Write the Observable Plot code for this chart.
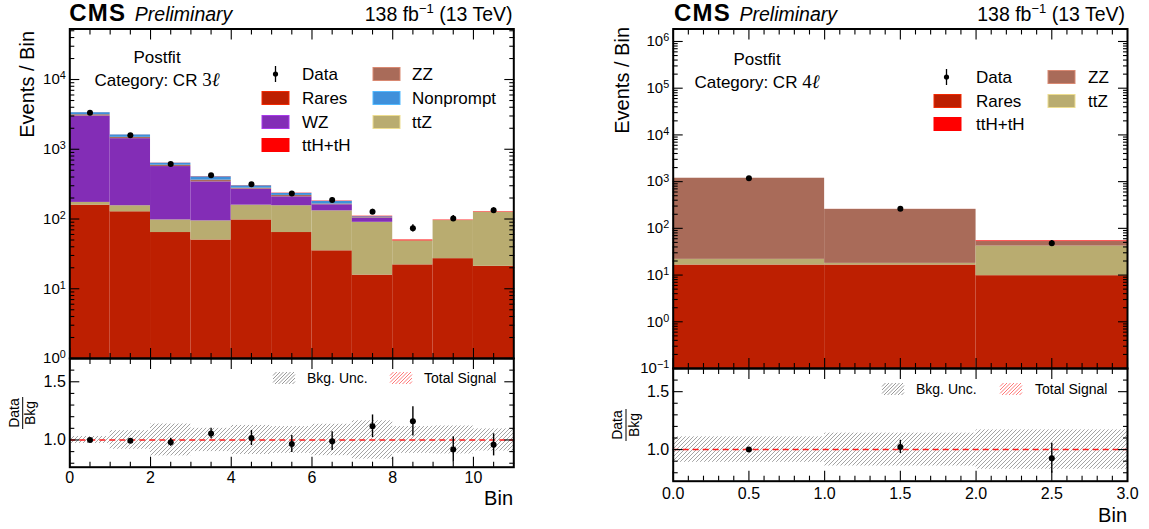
<!DOCTYPE html>
<html><head><meta charset="utf-8">
<script src="https://cdn.jsdelivr.net/npm/d3@7"></script>
<script src="https://cdn.jsdelivr.net/npm/@observablehq/plot@0.6"></script>
<style>
html,body{margin:0;padding:0;background:#fff;}
#root{position:relative;width:1149px;height:529px;overflow:hidden;background:#fff;font-family:"Liberation Sans",Arial,Helvetica,sans-serif;}
#root svg{position:absolute;max-width:none;overflow:visible;}
</style></head>
<body><div id="root"></div>
<script>
// ---------------- data ----------------
const procNames  = ["Rares", "ttZ", "WZ", "ZZ", "Nonprompt", "ttH+tH"];
const procColors = ["#bd1f01", "#b9ac70", "#832db6", "#a96b59", "#3f90da", "#ff0000"];

// CR 3l (left)
const binLo3l = [0, 1, 2, 3, 4, 5, 6, 7, 8, 9, 10];
const binHi3l = [1, 2, 3, 4, 5, 6, 7, 8, 9, 10, 11];
const rares3l     = [158, 127, 64, 50, 97, 64, 35, 15.7, 22, 27, 21];
const ttZ3l       = [15, 28, 33, 44, 61, 91, 96, 74, 26.5, 68, 104];
const wz3l        = [2820, 1264, 468, 247, 110, 53, 29, 13, 0, 0, 0];
const zz3l        = [133, 64, 26, 20, 9, 10, 4, 2, 0, 0, 0];
const nonprompt3l = [216, 120, 40, 41, 22, 15, 15, 3, 0, 0, 0];
const tth3l       = [5, 4, 3, 3, 2, 2, 2, 2, 1.5, 1.5, 2];
const data3l      = [3342, 1585, 617, 425, 316, 233, 187, 127, 74, 102, 133];
const dataErr3l   = [58, 40, 25, 21, 18, 15, 14, 11, 9, 10, 12];
const ratio3l     = [1.0, 0.994, 0.98, 1.056, 1.017, 0.966, 0.99, 1.118, 1.16, 0.918, 0.958];
const ratioErr3l  = [0.008, 0.012, 0.035, 0.045, 0.065, 0.073, 0.08, 0.097, 0.125, 0.11, 0.095];
const bkgUnc3l    = [0.03, 0.08, 0.137, 0.1, 0.125, 0.115, 0.135, 0.165, 0.115, 0.12, 0.095];

// CR 4l (right)
const binLo4l = [0, 1, 2];
const binHi4l = [1, 2, 3];
const rares4l    = [16.4, 16.4, 9.7];
const ttZ4l      = [5.3, 1.4, 32];
const zz4l       = [1160, 237, 10.5];
const tth4l      = [0.6, 0.6, 1.8];
const data4l     = [1180, 264, 48];
const dataErr4l  = [34, 16, 7];
const ratio4l    = [1.0, 1.023, 0.925];
const ratioErr4l = [0.01, 0.057, 0.13];
const bkgUnc4l   = [0.11, 0.142, 0.17];

// axis ranges / ticks
const yMain3l = [1, 5.3e4];
const yMain4l = [0.1, 1.85e6];
const yRatio3l = [0.766, 1.7];
const yRatio4l = [0.727, 1.7];
const ratioMajor = [1.0, 1.5];
const ratioMinor = [0.8, 0.9, 1.1, 1.2, 1.3, 1.4, 1.6, 1.7];
const xMajor3l = [0, 2, 4, 6, 8, 10];
const xMinor3l = [0.5, 1, 1.5, 2.5, 3, 3.5, 4.5, 5, 5.5, 6.5, 7, 7.5, 8.5, 9, 9.5, 10.5];
const xMajor4l = [0, 0.5, 1, 1.5, 2, 2.5, 3];
const xMinor4l = [0.1,0.2,0.3,0.4,0.6,0.7,0.8,0.9,1.1,1.2,1.3,1.4,1.6,1.7,1.8,1.9,2.1,2.2,2.3,2.4,2.6,2.7,2.8,2.9];

// ---------------- helpers ----------------
const FONT = '"Liberation Sans", Arial, Helvetica, sans-serif';
const HATCH_GRAY = "#9a9a9a";
const HATCH_RED = "#ff7a7a";
const root = document.getElementById("root");

function stackRows(lo, hi, comps, floor) {
  const rows = [];
  lo.forEach((x1, i) => {
    let base = 0;
    comps.forEach(([name, vals]) => {
      const v = vals[i];
      if (v > 0) rows.push({x1, x2: hi[i], y1: base > 0 ? base : floor, y2: base + v, name});
      base += v;
    });
  });
  return rows;
}
function pointRows(lo, hi, vals, errs) {
  return vals.map((v, i) => ({x: (lo[i] + hi[i]) / 2, y: v, lo: v - errs[i], hi: v + errs[i]}));
}
function bandRows(lo, hi, unc) {
  return unc.map((u, i) => ({x1: lo[i], x2: hi[i], y1: 1 - u, y2: 1 + u}));
}
function logMajor([a, b]) {
  const t = [];
  for (let e = Math.ceil(Math.log10(a) - 1e-9); Math.pow(10, e) <= b * 1.0001; e++) t.push(Math.pow(10, e));
  return t;
}
function logMinor([a, b]) {
  const t = [];
  for (let e = Math.floor(Math.log10(a) + 1e-9); Math.pow(10, e) <= b; e++)
    for (let m = 2; m <= 9; m++) { const v = m * Math.pow(10, e); if (v > a && v < b) t.push(v); }
  return t;
}
function frameTicks(xMaj, xMin, yMaj, yMin) {
  const c = {fill: "none", label: null, stroke: "black", strokeWidth: 1.1};
  const out = [];
  for (const anchor of ["top", "bottom"]) {
    out.push(Plot.axisX({...c, anchor, ticks: xMaj, tickSize: -10}));
    out.push(Plot.axisX({...c, anchor, ticks: xMin, tickSize: -5}));
  }
  for (const anchor of ["left", "right"]) {
    out.push(Plot.axisY({...c, anchor, ticks: yMaj, tickSize: -10}));
    out.push(Plot.axisY({...c, anchor, ticks: yMin, tickSize: -5}));
  }
  return out;
}
function superscriptify(svg) {
  d3.select(svg).selectAll("text").each(function () {
    const t = this.textContent;
    if (!t.includes("^")) return;
    const [b, e] = t.split("^");
    const s = d3.select(this);
    s.text(null);
    s.append("tspan").text(b);
    s.append("tspan").attr("dy", "-0.45em").attr("font-size", "0.72em").text(e.replace("-", "\u2212"));
  });
}
function makeHatch(defs, id, color) {
  const p = defs.append("pattern").attr("id", id).attr("patternUnits", "userSpaceOnUse")
    .attr("width", 4).attr("height", 4);
  p.append("path").attr("d", "M-1,1 L1,-1 M0,4 L4,0 M3,5 L5,3")
    .attr("stroke", color).attr("stroke-width", 0.9).attr("fill", "none");
}
function place(svg, left, top) {
  svg.style.position = "absolute";
  svg.style.left = left + "px";
  svg.style.top = top + "px";
  svg.style.overflow = "visible";
  svg.style.maxWidth = "none";
  root.appendChild(svg);
}
const logFmt = d => `10^${Math.round(Math.log10(d))}`;

function mainPlot({width, height, mL, mR, mT, xDom, yDom, rows, pts, xMaj, xMin}) {
  const svg = Plot.plot({
    width, height, marginLeft: mL, marginRight: mR, marginTop: mT, marginBottom: 0,
    style: {fontFamily: FONT, fontSize: "16px", color: "black", background: "transparent"},
    x: {domain: xDom},
    y: {type: "log", domain: yDom},
    color: {domain: procNames, range: procColors},
    marks: [
      Plot.rect(rows, {x1: "x1", x2: "x2", y1: "y1", y2: "y2", fill: "name"}),
      Plot.ruleX(pts, {x: "x", y1: "lo", y2: "hi", stroke: "black", strokeWidth: 1.4}),
      Plot.dot(pts, {x: "x", y: "y", r: 3, fill: "black", stroke: "none"}),
      ...frameTicks(xMaj, xMin, logMajor(yDom), logMinor(yDom)),
      Plot.axisY({anchor: "left", ticks: logMajor(yDom), tickSize: 0, tickPadding: 4, tickFormat: logFmt, label: null, fill: "black", fontSize: 15}),
      Plot.frame({stroke: "black", strokeWidth: 2})
    ]
  });
  superscriptify(svg);
  return svg;
}
function ratioPlot({width, height, mL, mR, mB, xDom, yDom, bands, pts, xMaj, xMin, xFmt, hatchId, xPad}) {
  const svg = Plot.plot({
    width, height, marginLeft: mL, marginRight: mR, marginTop: 0, marginBottom: mB,
    style: {fontFamily: FONT, fontSize: "16px", color: "black", background: "transparent"},
    x: {domain: xDom},
    y: {domain: yDom},
    marks: [
      Plot.rect(bands, {x1: "x1", x2: "x2", y1: "y1", y2: "y2", fill: `url(#${hatchId})`}),
      Plot.ruleY([1], {stroke: "#ff1a1a", strokeWidth: 1.5, strokeDasharray: "6,4"}),
      Plot.ruleX(pts, {x: "x", y1: "lo", y2: "hi", stroke: "black", strokeWidth: 1.4}),
      Plot.dot(pts, {x: "x", y: "y", r: 3, fill: "black", stroke: "none"}),
      ...frameTicks(xMaj, xMin, ratioMajor, ratioMinor),
      Plot.axisY({anchor: "left", ticks: ratioMajor, tickSize: 0, tickPadding: 4, tickFormat: d3.format(".1f"), label: null, fill: "black"}),
      Plot.axisX({anchor: "bottom", ticks: xMaj, tickSize: 0, tickPadding: xPad, tickFormat: xFmt, label: null, fill: "black"}),
      Plot.frame({stroke: "black", strokeWidth: 2})
    ]
  });
  makeHatch(d3.select(svg).insert("defs", ":first-child"), hatchId, HATCH_GRAY);
  return svg;
}

// ---------------- left panel (CR 3l) ----------------
const rows3l = stackRows(binLo3l, binHi3l,
  [["Rares", rares3l], ["ttZ", ttZ3l], ["WZ", wz3l], ["ZZ", zz3l], ["Nonprompt", nonprompt3l], ["ttH+tH", tth3l]], yMain3l[0]);
place(mainPlot({width: 560, height: 358, mL: 69.3, mR: 46.7, mT: 28.5, xDom: [0, 11], yDom: yMain3l,
  rows: rows3l, pts: pointRows(binLo3l, binHi3l, data3l, dataErr3l), xMaj: xMajor3l, xMin: xMinor3l}), 0, 0);
place(ratioPlot({width: 560, height: 171, mL: 69.3, mR: 46.7, mB: 62.3, xDom: [0, 11], yDom: yRatio3l,
  bands: bandRows(binLo3l, binHi3l, bkgUnc3l), pts: pointRows(binLo3l, binHi3l, ratio3l, ratioErr3l),
  xMaj: xMajor3l, xMin: xMinor3l, xFmt: d3.format("d"), hatchId: "hatchL", xPad: 4.5}), 0, 358);

// ---------------- right panel (CR 4l) ----------------
const rows4l = stackRows(binLo4l, binHi4l,
  [["Rares", rares4l], ["ttZ", ttZ4l], ["ZZ", zz4l], ["ttH+tH", tth4l]], yMain4l[0]);
place(mainPlot({width: 559, height: 368, mL: 82.7, mR: 22, mT: 28.5, xDom: [0, 3], yDom: yMain4l,
  rows: rows4l, pts: pointRows(binLo4l, binHi4l, data4l, dataErr4l), xMaj: xMajor4l, xMin: xMinor4l}), 590, 0);
place(ratioPlot({width: 559, height: 161, mL: 82.7, mR: 22, mB: 48.3, xDom: [0, 3], yDom: yRatio4l,
  bands: bandRows(binLo4l, binHi4l, bkgUnc4l), pts: pointRows(binLo4l, binHi4l, ratio4l, ratioErr4l),
  xMaj: xMajor4l, xMin: xMinor4l, xFmt: d3.format(".1f"), hatchId: "hatchR", xPad: 6.5}), 590, 368);

// ---------------- annotations overlay ----------------
const ov = d3.select(root).append("svg").attr("width", 1149).attr("height", 529)
  .style("left", "0px").style("top", "0px").style("pointer-events", "none")
  .attr("font-family", FONT);

function header(xL, xR) {
  ov.append("text").attr("x", xL).attr("y", 21).attr("font-size", 24).attr("font-weight", "bold")
    .attr("letter-spacing", 1.2).text("CMS");
  ov.append("text").attr("x", xL + 65.5).attr("y", 21).attr("font-size", 19.5).attr("font-style", "italic").text("Preliminary");
  const t = ov.append("text").attr("x", xR).attr("y", 21).attr("font-size", 19.5).attr("text-anchor", "end");
  t.append("tspan").text("138 fb");
  t.append("tspan").attr("dy", -8).attr("font-size", 13).text("\u22121");
  t.append("tspan").attr("dy", 8).text(" (13 TeV)");
}
header(69.3, 512.5);
header(674, 1125);

function vtitle(x, y, s) {
  ov.append("text").attr("transform", `translate(${x},${y}) rotate(-90)`).attr("text-anchor", "end")
    .attr("font-size", 20).text(s);
}
vtitle(33.5, 31, "Events / Bin");
vtitle(628.5, 27, "Events / Bin");

function fraction(x, y) {
  const g = ov.append("g").attr("transform", `translate(${x},${y}) rotate(-90)`).attr("font-size", 14);
  g.append("text").attr("text-anchor", "middle").attr("y", -4).text("Data");
  g.append("line").attr("x1", -16).attr("x2", 16).attr("stroke", "black").attr("stroke-width", 1);
  g.append("text").attr("text-anchor", "middle").attr("y", 12.5).text("Bkg");
}
fraction(22.7, 413);
fraction(626, 425);

function xtitle(x, y) {
  ov.append("text").attr("x", x).attr("y", y).attr("text-anchor", "end").attr("font-size", 20).text("Bin");
}
xtitle(513, 505);
xtitle(1127, 521.5);

function catText(cx, cy, n) {
  ov.append("text").attr("x", cx).attr("y", cy - 23).attr("dy", "0.35em").attr("text-anchor", "middle")
    .attr("font-size", 17).text("Postfit");
  const t = ov.append("text").attr("x", cx).attr("y", cy).attr("dy", "0.35em").attr("text-anchor", "middle").attr("font-size", 17);
  t.append("tspan").text("Category: CR ");
  t.append("tspan").attr("font-family", '"Liberation Serif", "DejaVu Serif", serif').attr("font-size", 19).text(n);
  t.append("tspan").attr("font-family", '"Liberation Serif", "DejaVu Serif", serif').attr("font-style", "italic").attr("font-size", 19).text("\u2113");
}
catText(157, 80.5, "3");
catText(757, 82, "4");

function legendBox(x, y, name, tx) {
  const c = procColors[procNames.indexOf(name)];
  ov.append("rect").attr("x", x).attr("y", y - 6.5).attr("width", 27).attr("height", 13)
    .attr("fill", c).attr("stroke", d3.color(c).brighter(0.7)).attr("stroke-width", 1);
  ov.append("text").attr("x", tx).attr("y", y).attr("dy", "0.35em").attr("font-size", 17).text(name);
}
function legendData(cx, y, tx) {
  ov.append("line").attr("x1", cx).attr("x2", cx).attr("y1", y - 8).attr("y2", y + 8).attr("stroke", "black").attr("stroke-width", 1.3);
  ov.append("circle").attr("cx", cx).attr("cy", y).attr("r", 2.6).attr("fill", "black");
  ov.append("text").attr("x", tx).attr("y", y).attr("dy", "0.35em").attr("font-size", 17).text("Data");
}
// left legend
legendData(275.5, 74, 302);
legendBox(262, 98, "Rares", 302);
legendBox(262, 122, "WZ", 302);
legendBox(262, 145, "ttH+tH", 302);
legendBox(373, 74, "ZZ", 412);
legendBox(373, 98, "Nonprompt", 412);
legendBox(373, 122, "ttZ", 412);
// right legend
legendData(946.5, 77, 976);
legendBox(934, 101, "Rares", 976);
legendBox(934, 124, "ttH+tH", 976);
legendBox(1048, 77, "ZZ", 1088);
legendBox(1048, 101, "ttZ", 1088);

// hatched legend swatch drawn as explicit 45° line segments inside the box
function hatchSwatch(x, y, w, h, color) {
  const g = ov.append("g").attr("stroke", color).attr("stroke-width", 1);
  for (let k = -h; k < w; k += 3.5) {
    let xa = x + k, ya = y + h, xb = x + k + h, yb = y;
    if (xa < x) { ya -= (x - xa); xa = x; }
    if (xb > x + w) { yb += (xb - (x + w)); xb = x + w; }
    if (xb > xa) g.append("line").attr("x1", xa).attr("y1", ya).attr("x2", xb).attr("y2", yb);
  }
}
function ratioLegend(x1, tx1, x2, tx2, y) {
  hatchSwatch(x1, y - 6, 22, 12, HATCH_GRAY);
  ov.append("text").attr("x", tx1).attr("y", y).attr("dy", "0.35em").attr("font-size", 14).text("Bkg. Unc.");
  hatchSwatch(x2, y - 6, 22, 12, HATCH_RED);
  ov.append("text").attr("x", tx2).attr("y", y).attr("dy", "0.35em").attr("font-size", 14).text("Total Signal");
}
ratioLegend(273, 307, 390, 424, 378);
ratioLegend(882, 916, 1000, 1035, 389);
</script>
</body></html>
